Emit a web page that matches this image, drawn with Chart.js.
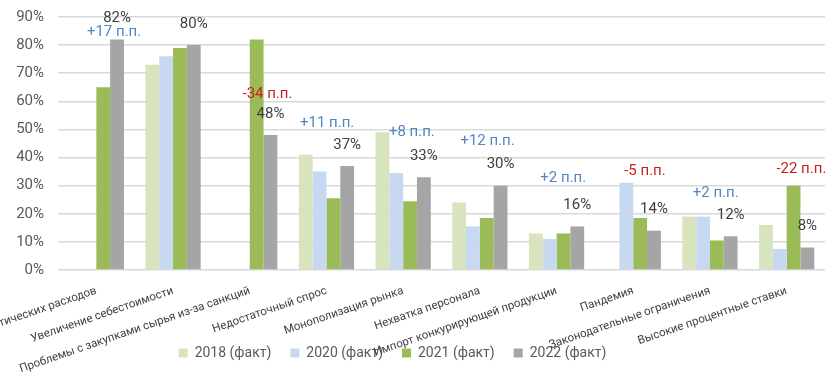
<!DOCTYPE html>
<html>
<head>
<meta charset="utf-8">
<script src="https://cdn.jsdelivr.net/npm/chart.js@4"></script>
<style>
  html, body { margin: 0; padding: 0; background: #fff; }
  #wrap { width: 825px; height: 376px; }
</style>
</head>
<body>
<div id="wrap"><canvas id="barCanvas"></canvas></div>
<script>
const categories = [
  "Рост логистических расходов",
  "Увеличение себестоимости",
  "Проблемы с закупками сырья из-за санкций",
  "Недостаточный спрос",
  "Монополизация рынка",
  "Нехватка персонала",
  "Импорт конкурирующей продукции",
  "Пандемия",
  "Законодательные ограничения",
  "Высокие процентные ставки"
];

const v2018 = [null, 73, null, 41, 49, 24, 13, null, 19, 16];
const v2020 = [null, 76, null, 35, 34.5, 15.5, 11, 31, 19, 7.5];
const v2021 = [65, 79, 82, 25.5, 24.5, 18.5, 13, 18.5, 10.5, 30];
const v2022 = [82, 80, 48, 37, 33, 30, 15.5, 14, 12, 8];

// change 2021 -> 2022, п.п.
const changes = [17, null, -34, 11, 8, 12, 2, -5, 2, -22];

const yTicks = [0, 10, 20, 30, 40, 50, 60, 70, 80, 90];

// where the change labels sit, relative to the top of the 2022 bar (px)
const changeOffsetX = [-3, 0, -3, -20, -12, -13, -14, -9, -15, -6];
const changeOffsetY = [-7, 0, -41, -43, -45, -44, -48, -59, -43, -78];

const annotations = {
  id: 'annotations',
  afterLayout(chart) {
    // the legend sits a little left of centre in the original
    chart.legend.left -= 20;
    chart.legend.right -= 20;
  },
  afterDatasetsDraw(chart) {
    const ctx = chart.ctx;
    const meta = chart.getDatasetMeta(3);
    ctx.save();
    ctx.textAlign = 'center';
    ctx.textBaseline = 'middle';
    ctx.font = '15px Roboto';
    meta.data.forEach((bar, i) => {
      const v = v2022[i];
      ctx.fillStyle = '#404040';
      ctx.fillText(Math.round(v) + '%', bar.x, bar.y - 21);
      const c = changes[i];
      if (c !== null) {
        ctx.fillStyle = c > 0 ? '#4f86c6' : '#c81e1e';
        const txt = (c > 0 ? '+' : '') + c + ' п.п.';
        ctx.fillText(txt, bar.x + changeOffsetX[i], bar.y + changeOffsetY[i]);
      }
    });
    ctx.restore();
  }
};

const data = {
  labels: categories,
  datasets: [
    { label: '2018 (факт)', data: v2018, backgroundColor: '#d7e4bd' },
    { label: '2020 (факт)', data: v2020, backgroundColor: '#c6d9f1' },
    { label: '2021 (факт)', data: v2021, backgroundColor: '#9bbb59' },
    { label: '2022 (факт)', data: v2022, backgroundColor: '#a5a5a5' }
  ]
};

const config = {
  type: 'bar',
  data: data,
  plugins: [annotations],
  options: {
    responsive: true,
    maintainAspectRatio: false,
    animation: false,
    categoryPercentage: 0.72,
    barPercentage: 1,
    layout: { padding: { top: 17, left: 0, right: 0, bottom: 6 } },
    plugins: {
      tooltip: { enabled: false },
      legend: {
        position: 'bottom',
        labels: {
          boxWidth: 9,
          boxHeight: 9,
          padding: 19,
          color: '#595959',
          font: { family: 'Roboto', size: 14 }
        }
      }
    },
    scales: {
      x: {
        grid: { display: false },
        border: { display: false },
        ticks: {
          color: '#404040',
          font: { family: 'Roboto', size: 11.5 },
          minRotation: 19,
          maxRotation: 19,
          autoSkip: false,
          padding: 6
        },
        afterFit(scale) {
          scale.height = 57;
          scale.paddingLeft = 0;
          scale.paddingRight = 0;
          // let the long rotated labels run past the axis box, as in the original
          scale._computeLabelArea = () => undefined;
        }
      },
      y: {
        min: 0,
        max: 90,
        afterBuildTicks(scale) {
          scale.ticks = yTicks.map(v => ({ value: v }));
        },
        grid: { color: '#d9d9d9', lineWidth: 1.5, drawTicks: false },
        border: { display: false },
        ticks: {
          color: '#595959',
          font: { family: 'Roboto', size: 15 },
          padding: 14,
          callback: v => v + '%'
        },
        afterFit(scale) {
          scale.width = 58;
          scale.paddingTop = 0;
          scale.paddingBottom = 0;
        }
      }
    }
  }
};

const canvas = document.getElementById("barCanvas");
new Chart(canvas.getContext("2d"), config);
</script>
</body>
</html>
